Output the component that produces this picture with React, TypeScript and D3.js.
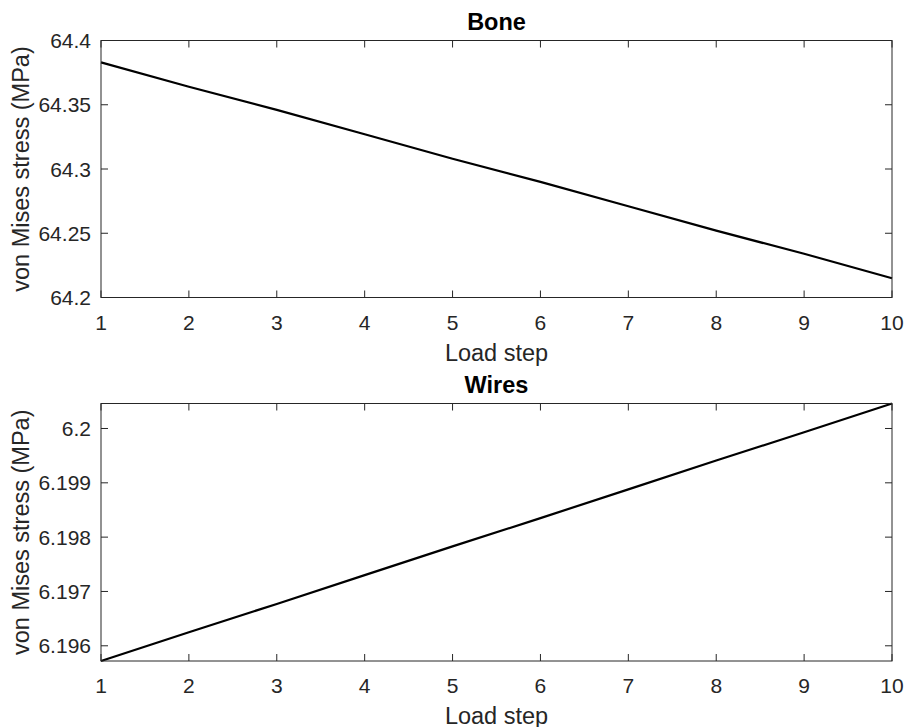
import * as React from 'react'
import {scaleLinear, line as d3Line} from 'd3'

const W = 907
const H = 727

// load steps
const steps = [1, 2, 3, 4, 5, 6, 7, 8, 9, 10]

// von Mises stress per load step (MPa)
const boneStress = [64.383, 64.364, 64.346, 64.327, 64.308, 64.290, 64.271, 64.252, 64.234, 64.215]
const wireStress = [6.19572, 6.19625, 6.19677, 6.19730, 6.19783, 6.19835, 6.19888, 6.19941, 6.19993, 6.20046]

const boneTicks = [64.2, 64.25, 64.3, 64.35, 64.4]
const boneTickLabels = ['64.2', '64.25', '64.3', '64.35', '64.4']
const wireTicks = [6.196, 6.197, 6.198, 6.199, 6.2]
const wireTickLabels = ['6.196', '6.197', '6.198', '6.199', '6.2']

const FONT = '"Liberation Sans", Arial, Helvetica, sans-serif'
const AXIS = '#262626'
const TICK_FS = 21
const LABEL_FS = 23.5

function Panel({title, values, yDomain, yTicks, yLabels, top, bottom}) {
  const left = 101
  const right = 892
  const x = scaleLinear().domain([1, 10]).range([left, right])
  const y = scaleLinear().domain(yDomain).range([bottom, top])
  const path = d3Line()
    .x((d, i) => x(steps[i]))
    .y(d => y(d))(values)
  const tk = 7
  const midY = (top + bottom) / 2

  return (
    <g>
      <text x={(left + right) / 2} y={top - 11} textAnchor="middle" fontFamily={FONT}
        fontWeight="bold" fontSize={LABEL_FS} fill="#000">{title}</text>
      <path d={path} fill="none" stroke="#000" strokeWidth={2.2} />
      <rect x={left} y={top} width={right - left} height={bottom - top} fill="none" stroke={AXIS} strokeWidth={1} />
      {steps.map(s => (
        <g key={'x' + s}>
          <line x1={x(s)} x2={x(s)} y1={bottom} y2={bottom - tk} stroke={AXIS} />
          <line x1={x(s)} x2={x(s)} y1={top} y2={top + tk} stroke={AXIS} />
          <text x={x(s)} y={bottom + 32} textAnchor="middle" fontFamily={FONT} fontSize={TICK_FS} fill={AXIS}>{s}</text>
        </g>
      ))}
      {yTicks.map((t, i) => (
        <g key={'y' + i}>
          <line x1={left} x2={left + tk} y1={y(t)} y2={y(t)} stroke={AXIS} />
          <line x1={right} x2={right - tk} y1={y(t)} y2={y(t)} stroke={AXIS} />
          <text x={left - 10} y={y(t)} dy="0.36em" textAnchor="end" fontFamily={FONT} fontSize={TICK_FS} fill={AXIS}>{yLabels[i]}</text>
        </g>
      ))}
      <text x={(left + right) / 2} y={bottom + 63} textAnchor="middle" fontFamily={FONT} fontSize={LABEL_FS} fill={AXIS}>Load step</text>
      <text transform={`translate(29, ${midY}) rotate(-90)`} textAnchor="middle" fontFamily={FONT}
        fontSize={LABEL_FS} fill={AXIS}>von Mises stress (MPa)</text>
    </g>
  )
}

export default function App() {
  return (
    <svg width={W} height={H} style={{position: 'absolute', left: 0, top: 0, background: '#fff'}}>
      <rect width={W} height={H} fill="#fff" />
      <Panel title="Bone" values={boneStress} yDomain={[64.2, 64.4]} yTicks={boneTicks}
        yLabels={boneTickLabels} top={40.5} bottom={297.5} />
      <Panel title="Wires" values={wireStress} yDomain={[6.19572, 6.20046]} yTicks={wireTicks}
        yLabels={wireTickLabels} top={403.5} bottom={661} />
    </svg>
  )
}
